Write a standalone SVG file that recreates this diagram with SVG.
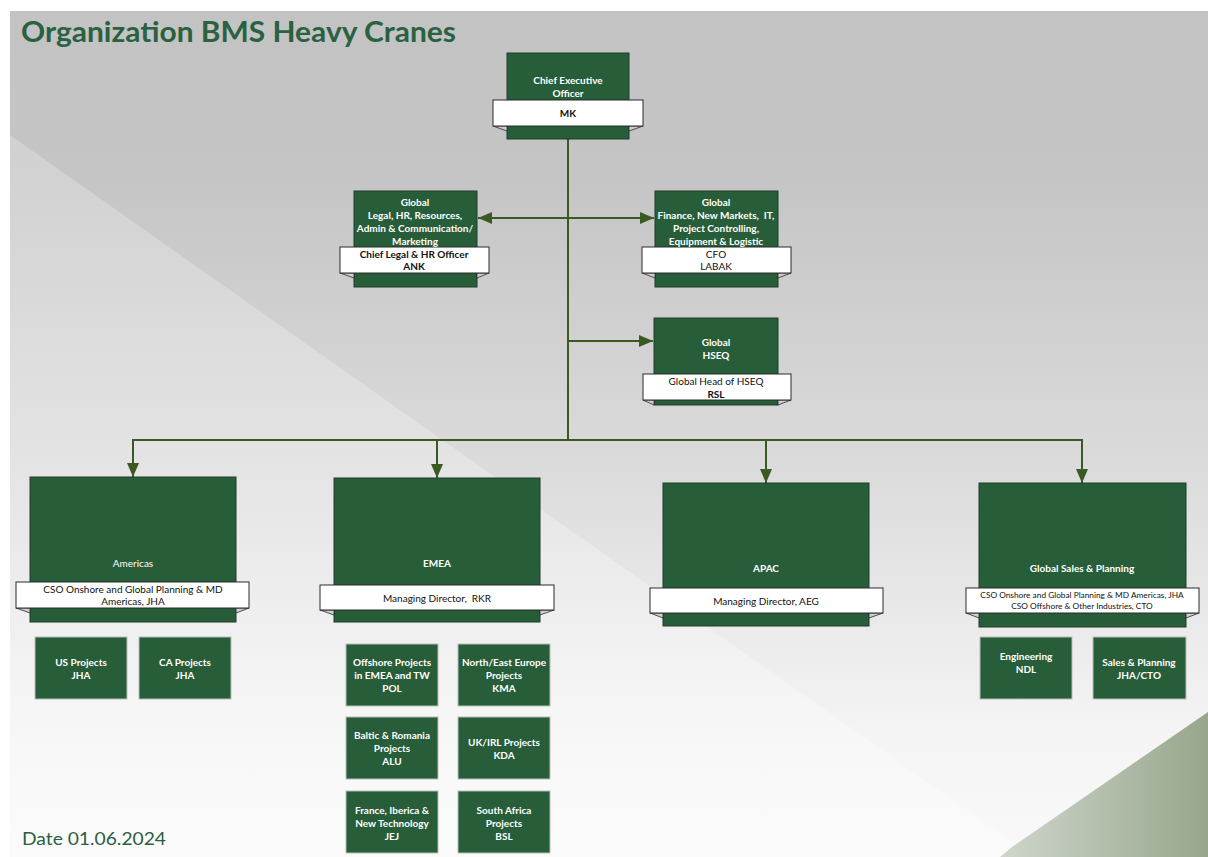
<svg xmlns="http://www.w3.org/2000/svg" width="1208" height="857" viewBox="0 0 1208 857">
<defs>
<linearGradient id="bg" x1="0" y1="0" x2="0" y2="1">
<stop offset="0" stop-color="#c3c3c3"/>
<stop offset="0.2" stop-color="#c5c5c5"/>
<stop offset="0.55" stop-color="#dcdcdc"/>
<stop offset="0.85" stop-color="#f4f4f4"/>
<stop offset="1" stop-color="#f9f9f9"/>
</linearGradient>
<linearGradient id="tri" x1="0" y1="0" x2="0" y2="1">
<stop offset="0" stop-color="#ffffff" stop-opacity="0.22"/>
<stop offset="1" stop-color="#ffffff" stop-opacity="0.3"/>
</linearGradient>
<linearGradient id="grn" x1="0" y1="0" x2="1" y2="0">
<stop offset="0" stop-color="#cfd6cb"/>
<stop offset="1" stop-color="#97a68c"/>
</linearGradient>
<marker id="ahd" viewBox="0 0 14 12" refX="14" refY="6" markerWidth="14" markerHeight="12" markerUnits="userSpaceOnUse" orient="auto-start-reverse">
<path d="M0,0 L14,6 L0,12 Z" fill="#3b5a23"/>
</marker>
</defs>
<style>
text{white-space:pre}
.box{fill:#275d39;stroke:#1f3f28;stroke-width:1}
.sub{fill:#275d39;stroke:#b9beb9;stroke-width:1}
.lab{fill:#ffffff;stroke:#2b2b2b;stroke-width:1}
.fold{fill:#cfcfcf;stroke:#2b2b2b;stroke-width:0.8}
.t{font-family:Lato,"Liberation Sans",sans-serif;font-size:10px;font-weight:bold;fill:#ffffff;text-anchor:middle}
.tr{font-family:Lato,"Liberation Sans",sans-serif;font-size:10px;font-weight:normal;fill:#ffffff;text-anchor:middle}
.l{font-family:Lato,"Liberation Sans",sans-serif;font-size:10px;font-weight:normal;fill:#111111;text-anchor:middle}
.lb{font-family:Lato,"Liberation Sans",sans-serif;font-size:10px;font-weight:bold;fill:#111111;text-anchor:middle}
.ls{font-family:Lato,"Liberation Sans",sans-serif;font-size:8.3px;font-weight:normal;fill:#111111;text-anchor:middle}
.c{fill:none;stroke:#3b5a23;stroke-width:2}
</style>
<rect x="0" y="0" width="1208" height="857" fill="#ffffff"/>
<rect x="10" y="11" width="1198" height="846" fill="url(#bg)"/>
<polygon points="10,135 1208,980 1208,857 10,857" fill="url(#tri)"/>
<polygon points="1208,712 1012,847 1000,857 1208,857" fill="url(#grn)"/>
<text x="21" y="42" font-family="Lato,'Liberation Sans',sans-serif" font-size="28" font-weight="bold" fill="#2a6141" textLength="435" lengthAdjust="spacingAndGlyphs">Organization BMS Heavy Cranes</text>
<text x="22" y="845" font-family="Lato,'Liberation Sans',sans-serif" font-size="18" fill="#2c5e44" textLength="144" lengthAdjust="spacingAndGlyphs">Date 01.06.2024</text>

<g id="connectors">
<line class="c" x1="568" y1="139" x2="568" y2="440"/>
<line class="c" x1="568" y1="218" x2="478" y2="218" marker-end="url(#ahd)"/>
<line class="c" x1="568" y1="218" x2="654" y2="218" marker-end="url(#ahd)"/>
<line class="c" x1="568" y1="341" x2="653" y2="341" marker-end="url(#ahd)"/>
<polyline class="c" points="133,460 133,440 1082,440 1082,460"/>
<line class="c" x1="133" y1="440" x2="133" y2="477" marker-end="url(#ahd)"/>
<line class="c" x1="437" y1="440" x2="437" y2="478" marker-end="url(#ahd)"/>
<line class="c" x1="766" y1="440" x2="766" y2="483" marker-end="url(#ahd)"/>
<line class="c" x1="1082" y1="440" x2="1082" y2="483" marker-end="url(#ahd)"/>
</g>

<g id="ceo">
<rect class="box" x="507" y="53" width="122" height="86"/>
<polygon class="fold" points="493,126 507,126 507,131"/>
<polygon class="fold" points="643,126 629,126 629,131"/>
<rect class="lab" x="493" y="100" width="150" height="26"/>
<text class="t" x="568" y="84">Chief Executive</text>
<text class="t" x="568" y="97">Officer</text>
<text class="lb" x="568" y="117">MK</text>
</g>

<g id="legal">
<rect class="box" x="354" y="191" width="123" height="96"/>
<polygon class="fold" points="340,273 354,273 354,278"/>
<polygon class="fold" points="489,273 477,273 477,278"/>
<rect class="lab" x="340" y="247" width="149" height="26"/>
<text class="t" x="415" y="206">Global</text>
<text class="t" x="415" y="219">Legal, HR, Resources,</text>
<text class="t" x="415" y="232">Admin &amp; Communication/</text>
<text class="t" x="415" y="245">Marketing</text>
<text class="lb" x="414" y="258">Chief Legal &amp; HR Officer</text>
<text class="lb" x="414" y="270">ANK</text>
</g>

<g id="finance">
<rect class="box" x="655" y="191" width="123" height="96"/>
<polygon class="fold" points="642,273 655,273 655,278"/>
<polygon class="fold" points="791,273 778,273 778,278"/>
<rect class="lab" x="642" y="247" width="149" height="26"/>
<text class="t" x="716" y="206">Global</text>
<text class="t" x="716" y="219">Finance, New Markets,  IT,</text>
<text class="t" x="716" y="232">Project Controlling,</text>
<text class="t" x="716" y="245">Equipment &amp; Logistic</text>
<text class="l" x="716" y="258">CFO</text>
<text class="l" x="716" y="270">LABAK</text>
</g>

<g id="hseq">
<rect class="box" x="654" y="318" width="124" height="87"/>
<polygon class="fold" points="643,400 654,400 654,405"/>
<polygon class="fold" points="791,400 778,400 778,405"/>
<rect class="lab" x="643" y="374" width="148" height="26"/>
<text class="t" x="716" y="346">Global</text>
<text class="t" x="716" y="359">HSEQ</text>
<text class="l" x="716" y="385">Global Head of HSEQ</text>
<text class="lb" x="716" y="398">RSL</text>
</g>

<g id="americas">
<rect class="box" x="30" y="477" width="206" height="145"/>
<polygon class="fold" points="16,608 30,608 30,613"/>
<polygon class="fold" points="249,608 236,608 236,613"/>
<rect class="lab" x="16" y="582" width="233" height="26"/>
<text class="tr" x="133" y="567">Americas</text>
<text class="l" x="133" y="593">CSO Onshore and Global Planning &amp; MD</text>
<text class="l" x="133" y="605">Americas, JHA</text>
</g>
<g id="us-projects">
<rect class="sub" x="35" y="637" width="92" height="62"/>
<text class="t" x="81" y="666">US Projects</text>
<text class="t" x="81" y="679">JHA</text>
</g>
<g id="ca-projects">
<rect class="sub" x="139" y="637" width="92" height="62"/>
<text class="t" x="185" y="666">CA Projects</text>
<text class="t" x="185" y="679">JHA</text>
</g>

<g id="emea">
<rect class="box" x="334" y="478" width="206" height="144"/>
<polygon class="fold" points="320,610 334,610 334,615"/>
<polygon class="fold" points="554,610 540,610 540,615"/>
<rect class="lab" x="320" y="585" width="234" height="25"/>
<text class="t" x="437" y="567">EMEA</text>
<text class="l" x="437" y="602">Managing Director,  RKR</text>
</g>
<g id="offshore">
<rect class="sub" x="346" y="644" width="92" height="62"/>
<text class="t" x="392" y="666">Offshore Projects</text>
<text class="t" x="392" y="679">in EMEA and TW</text>
<text class="t" x="392" y="692">POL</text>
</g>
<g id="north-east">
<rect class="sub" x="458" y="644" width="92" height="62"/>
<text class="t" x="504" y="666">North/East Europe</text>
<text class="t" x="504" y="679">Projects</text>
<text class="t" x="504" y="692">KMA</text>
</g>
<g id="baltic">
<rect class="sub" x="346" y="717" width="92" height="62"/>
<text class="t" x="392" y="739">Baltic &amp; Romania</text>
<text class="t" x="392" y="752">Projects</text>
<text class="t" x="392" y="765">ALU</text>
</g>
<g id="uk-irl">
<rect class="sub" x="458" y="717" width="92" height="62"/>
<text class="t" x="504" y="746">UK/IRL Projects</text>
<text class="t" x="504" y="759">KDA</text>
</g>
<g id="france">
<rect class="sub" x="346" y="791" width="92" height="62"/>
<text class="t" x="392" y="814">France, Iberica &amp;</text>
<text class="t" x="392" y="827">New Technology</text>
<text class="t" x="392" y="840">JEJ</text>
</g>
<g id="south-africa">
<rect class="sub" x="458" y="791" width="92" height="62"/>
<text class="t" x="504" y="814">South Africa</text>
<text class="t" x="504" y="827">Projects</text>
<text class="t" x="504" y="840">BSL</text>
</g>

<g id="apac">
<rect class="box" x="663" y="483" width="206" height="143"/>
<polygon class="fold" points="650,613 663,613 663,618"/>
<polygon class="fold" points="883,613 869,613 869,618"/>
<rect class="lab" x="650" y="588" width="233" height="25"/>
<text class="t" x="766" y="572">APAC</text>
<text class="l" x="766" y="605">Managing Director, AEG</text>
</g>

<g id="global-sales">
<rect class="box" x="979" y="483" width="207" height="144"/>
<polygon class="fold" points="966,613 979,613 979,618"/>
<polygon class="fold" points="1199,613 1186,613 1186,618"/>
<rect class="lab" x="966" y="588" width="233" height="25"/>
<text class="t" x="1082" y="572">Global Sales &amp; Planning</text>
<text class="ls" x="1082" y="598">CSO Onshore and Global Planning &amp; MD Americas, JHA</text>
<text class="ls" x="1082" y="609">CSO Offshore &amp; Other Industries, CTO</text>
</g>
<g id="engineering">
<rect class="sub" x="980" y="637" width="92" height="62"/>
<text class="t" x="1026" y="660">Engineering</text>
<text class="t" x="1026" y="673">NDL</text>
</g>
<g id="sales-planning">
<rect class="sub" x="1093" y="637" width="93" height="62"/>
<text class="t" x="1139" y="666">Sales &amp; Planning</text>
<text class="t" x="1139" y="679">JHA/CTO</text>
</g>
</svg>
